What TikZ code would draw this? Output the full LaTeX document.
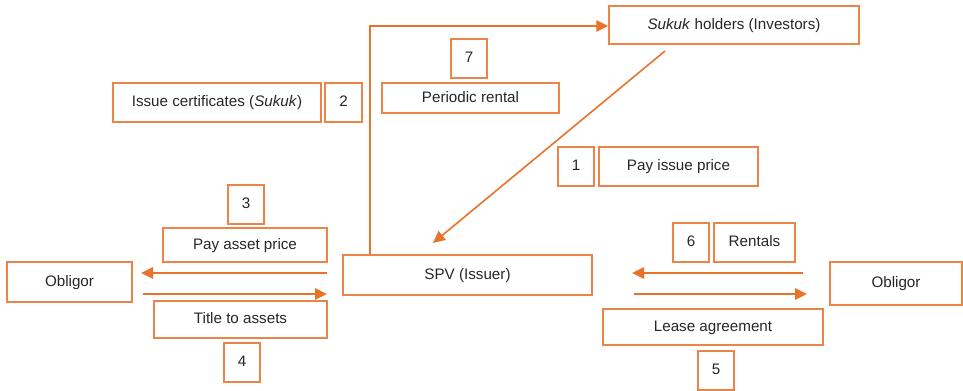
\documentclass[tikz,border=0pt]{standalone}
\usepackage{fontspec}
\setmainfont{Liberation Sans}
\usetikzlibrary{arrows.meta}
\definecolor{orline}{HTML}{E8732A}
\definecolor{orbox}{HTML}{EC8448}
\tikzset{
  bx/.style={draw=orbox, line width=1.1pt, inner sep=0pt, text height=8pt, text depth=1.6pt, font=\fontsize{11.4}{13}\selectfont, text=black!85},
  flow/.style={draw=orline, line width=1.2pt, -{Triangle[length=9pt,width=8.5pt]}},
  plain/.style={draw=orline, line width=1.2pt}
}
\newcommand{\bxnode}[6]{%
  \node[bx, minimum width={(#4-#2)*0.75pt}, minimum height={(#5-#3)*0.75pt}] (#1) at ({(#2+#4)/2},{(#3+#5)/2}) {#6};}
\begin{document}
\begin{tikzpicture}[x=0.75pt,y=-0.75pt]
\useasboundingbox (0,0) rectangle (963,391);
\bxnode{inv}{609}{6}{859}{44}{\textit{Sukuk} holders (Investors)}
\bxnode{iss}{113}{83}{321}{122}{Issue certificates (\textit{Sukuk})}
\bxnode{n2}{325}{83}{362}{122}{2}
\bxnode{n7}{451}{39}{487}{78}{7}
\bxnode{per}{382}{83}{559}{113}{Periodic rental}
\bxnode{n1}{558}{147}{594}{186}{1}
\bxnode{pip}{599}{147}{758}{186}{Pay issue price}
\bxnode{n3}{228}{185}{264}{224}{3}
\bxnode{pap}{163}{228}{327}{262}{Pay asset price}
\bxnode{oblL}{7}{262}{132}{302}{Obligor}
\bxnode{tta}{154}{301}{327}{338}{Title to assets}
\bxnode{n4}{224}{343}{260}{382}{4}
\bxnode{spv}{343}{255}{592}{295}{SPV (Issuer)}
\bxnode{n6}{673}{223}{709}{262}{6}
\bxnode{ren}{714}{223}{795}{262}{Rentals}
\bxnode{oblR}{830}{262}{962}{305}{Obligor}
\bxnode{lea}{603}{309}{823}{345}{Lease agreement}
\bxnode{n5}{698}{351}{734}{390}{5}
% coordinates for free ends
\coordinate (c7) at (370,26);
\coordinate (d1) at (665,51);
\coordinate (d2) at (433,243);
\coordinate (a1s) at (327,273);
\coordinate (a1e) at (141,273);
\coordinate (a2s) at (143,294);
\coordinate (a2e) at (327,294);
\coordinate (a3s) at (803,273);
\coordinate (a3e) at (632,273);
\coordinate (a4s) at (634,294);
\coordinate (a4e) at (807,294);
% connectors
\draw[flow] (spv.north -| c7) -- (c7) -- (inv.west |- c7);
\draw[flow] (d1) -- (d2);
\draw[flow] (a1s) -- (a1e);
\draw[flow] (a2s) -- (a2e);
\draw[flow] (a3s) -- (a3e);
\draw[flow] (a4s) -- (a4e);
\end{tikzpicture}
\end{document}
